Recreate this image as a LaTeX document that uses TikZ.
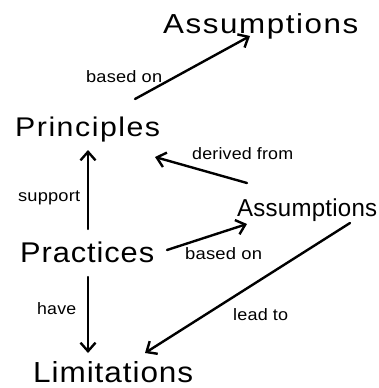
\documentclass[tikz,border=0pt]{standalone}
\usepackage{fontspec}
\setmainfont{Liberation Sans}
\usepackage{graphicx}
\usetikzlibrary{arrows.meta}
\newcommand{\fittxt}[4]{\resizebox{#2pt}{\height}{\fontsize{#1pt}{#1pt}\selectfont\addfontfeature{LetterSpace=#4}#3}}
\tikzset{
  concept/.style={inner sep=0pt, anchor=base west},
  lbl/.style={inner sep=0pt, anchor=base west},
  arr/.style={line width=2.4pt, line cap=round, -{Straight Barb[length=8.5pt,width=15pt]}},
}
\begin{document}
\begin{tikzpicture}[x=1pt,y=-1pt]
\useasboundingbox[fill=white] (0,0) rectangle (378,388);
% concepts
\node[concept] (asT)  at (163,33)  {\fittxt{27.5}{195}{Assumptions}{5}};
\node[concept] (prin) at (15,136)  {\fittxt{27}{145}{Principles}{5}};
\node[concept] (prac) at (20,262)  {\fittxt{28.5}{134}{Practices}{3}};
\node[concept] (lim)  at (33,382)  {\fittxt{29}{160}{Limitations}{3}};
\node[concept] (asR)  at (237,216) {\fittxt{24.5}{140}{Assumptions}{1}};
% labels
\node[lbl] (l1) at (86,82)   {\fittxt{16.5}{76}{based on}{1}};
\node[lbl] (l2) at (192,159) {\fittxt{16.5}{101}{derived from}{1}};
\node[lbl] (l3) at (18,201)  {\fittxt{16.5}{62}{support}{1}};
\node[lbl] (l4) at (185,259) {\fittxt{16.5}{77}{based on}{1}};
\node[lbl] (l5) at (37,314)  {\fittxt{16.5}{39}{have}{1}};
\node[lbl] (l6) at (233,320) {\fittxt{16.5}{55}{lead to}{1}};
% connectors
\draw[arr] ([shift={(120,-37)}]prin.base west) -- ([shift={(87,3)}]asT.base west);
\draw[arr] ([shift={(68,-33)}]prac.base west) -- ([shift={(73,14)}]prin.base west);
\draw[arr] ([shift={(68,15)}]prac.base west) -- ([shift={(55,-29)}]lim.base west);
\draw[arr] ([shift={(147,-12)}]prac.base west) -- ([shift={(10,8)}]asR.base west);
\draw[arr] ([shift={(10,-33)}]asR.base west) -- ([shift={(140,21)}]prin.base west);
\draw[arr] ([shift={(113,7)}]asR.base west) -- ([shift={(112,-29)}]lim.base west);
\end{tikzpicture}
\end{document}
